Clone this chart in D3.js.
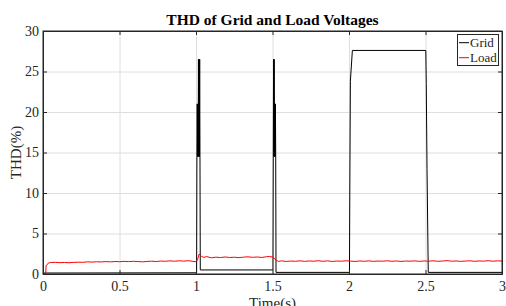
<!DOCTYPE html>
<html>
<head>
<meta charset="utf-8">
<script src="https://cdn.jsdelivr.net/npm/d3@7"></script>
<style>
  body { margin: 0; background: #fff; }
  svg text { font-family: "Liberation Serif", "Times New Roman", serif; fill: #262626; }
</style>
</head>
<body>
<svg id="chart" width="506" height="306"></svg>
<script>
//-- data --//
var title = "THD of Grid and Load Voltages";
var xLabel = "Time(s)";
var yLabel = "THD(%)";
var xTicks = [0, 0.5, 1, 1.5, 2, 2.5, 3];
var yTicks = [0, 5, 10, 15, 20, 25, 30];
var seriesNames = ["Grid", "Load"];
var seriesColors = ["#000000", "#ff0000"];

// Grid THD [time, %]
var gridTHD = [
  [0, 0], [0.004, 0.12], [1.004, 0.15], [1.006, 14.5], [1.008, 21], [1.010, 14.5],
  [1.012, 21], [1.014, 14.5], [1.016, 26.5], [1.018, 14.5], [1.020, 26.5],
  [1.022, 14.5], [1.024, 26.5], [1.026, 14.5], [1.028, 0.5],
  [1.503, 0.5], [1.505, 14.5], [1.507, 26.5], [1.509, 14.5], [1.511, 26.5],
  [1.513, 14.5], [1.515, 21], [1.517, 14.5], [1.519, 21], [1.521, 14.5], [1.523, 0.2],
  [2.003, 0.2], [2.005, 9], [2.009, 23.8], [2.022, 27.6],
  [2.502, 27.6], [2.505, 23.5], [2.510, 13], [2.518, 0.2], [3, 0.2]
];

// Load THD [time, %]
var loadTHD = [
  [0, 0], [0.018, 0], [0.02, 1.0], [0.035, 1.35], [0.05, 1.42], [0.08, 1.44],
  [0.11, 1.40], [0.14, 1.42], [0.17, 1.39], [0.2, 1.43], [0.23, 1.46], [0.26, 1.44],
  [0.29, 1.50], [0.32, 1.47], [0.35, 1.51], [0.38, 1.49], [0.41, 1.53], [0.44, 1.50],
  [0.47, 1.54], [0.5, 1.52], [0.53, 1.56], [0.56, 1.53], [0.59, 1.57], [0.62, 1.54],
  [0.65, 1.50], [0.68, 1.55], [0.71, 1.58], [0.74, 1.54], [0.77, 1.60], [0.8, 1.57],
  [0.83, 1.62], [0.86, 1.58], [0.89, 1.63], [0.92, 1.59], [0.95, 1.64], [0.98, 1.56],
  [1.0, 1.52], [1.01, 1.75], [1.02, 2.45], [1.035, 2.2], [1.05, 2.05], [1.07, 2.15],
  [1.1, 2.0], [1.13, 2.08], [1.16, 2.03], [1.19, 2.1], [1.22, 2.04], [1.25, 2.07],
  [1.28, 2.02], [1.31, 2.08], [1.34, 2.12], [1.37, 2.06], [1.4, 2.1], [1.43, 2.04],
  [1.46, 2.13], [1.48, 2.16], [1.5, 2.1], [1.51, 1.95], [1.525, 1.7], [1.54, 1.55],
  [1.56, 1.62], [1.59, 1.55], [1.62, 1.60], [1.65, 1.57], [1.68, 1.63], [1.71, 1.56],
  [1.74, 1.61], [1.77, 1.58], [1.8, 1.64], [1.83, 1.57], [1.86, 1.62], [1.89, 1.55],
  [1.92, 1.60], [1.95, 1.58], [1.98, 1.63], [2.01, 1.59], [2.04, 1.55], [2.07, 1.61],
  [2.1, 1.57], [2.13, 1.62], [2.16, 1.56], [2.19, 1.60], [2.22, 1.58], [2.25, 1.63],
  [2.28, 1.57], [2.31, 1.61], [2.34, 1.55], [2.37, 1.60], [2.4, 1.58], [2.43, 1.62],
  [2.46, 1.56], [2.49, 1.61], [2.52, 1.58], [2.55, 1.63], [2.58, 1.57], [2.61, 1.60],
  [2.64, 1.65], [2.67, 1.58], [2.7, 1.61], [2.73, 1.56], [2.76, 1.60], [2.79, 1.63],
  [2.82, 1.57], [2.85, 1.61], [2.88, 1.59], [2.91, 1.64], [2.94, 1.58], [2.97, 1.62],
  [3.0, 1.60]
];
//-- data --//

var svg = d3.select("#chart"),
    margin = {top: 31, left: 43, bottom: 32, right: 4},
    width = +svg.attr("width") - margin.left - margin.right,
    height = +svg.attr("height") - margin.top - margin.bottom;

var x = d3.scaleLinear().domain([0, 3]).range([0, width]);
var y = d3.scaleLinear().domain([0, 30]).range([height, 0]);

var g = svg.append("g")
    .attr("transform", `translate(${margin.left},${margin.top})`);

//--grid lines--//
g.append("g")
    .attr("class", "grid")
    .attr("transform", `translate(0,${height})`)
    .call(d3.axisBottom(x).tickValues(xTicks).tickSize(-height).tickFormat(""))
    .call(a => a.select(".domain").remove());

g.append("g")
    .attr("class", "grid")
    .call(d3.axisLeft(y).tickValues(yTicks).tickSize(-width).tickFormat(""))
    .call(a => a.select(".domain").remove());
//--grid lines--//

//--lines--//
var line = d3.line().x(d => x(d[0])).y(d => y(d[1]));

g.append("path")
    .datum(gridTHD)
    .attr("fill", "none")
    .attr("stroke", seriesColors[0])
    .attr("stroke-width", 1)
    .attr("d", line);

g.append("path")
    .datum(loadTHD)
    .attr("fill", "none")
    .attr("stroke", seriesColors[1])
    .attr("stroke-width", 1)
    .attr("d", line);
//--lines--//

//--axes--//
g.append("g")
    .attr("transform", `translate(0,${height})`)
    .call(d3.axisBottom(x).tickValues(xTicks).tickFormat(d3.format("")).tickSizeInner(-4).tickSizeOuter(0).tickPadding(7));

g.append("g")
    .call(d3.axisLeft(y).tickValues(yTicks).tickSizeInner(-4).tickSizeOuter(0).tickPadding(4));

g.append("g")
    .call(d3.axisTop(x).tickValues(xTicks).tickFormat("").tickSizeInner(-4).tickSizeOuter(0));

g.append("g")
    .attr("transform", `translate(${width},0)`)
    .call(d3.axisRight(y).tickValues(yTicks).tickFormat("").tickSizeInner(-4).tickSizeOuter(0));

g.selectAll(".tick text")
    .style("font-family", "Liberation Serif")
    .style("font-size", "14px")
    .attr("fill", "#262626");

g.selectAll(".domain, .tick line").attr("stroke", "#262626");
g.selectAll(".grid .tick line").attr("stroke", "#dedede");

g.append("rect")
    .attr("width", width)
    .attr("height", height)
    .attr("fill", "none")
    .attr("stroke", "#262626");
//--axes--//

//--labels--//
svg.append("text")
    .attr("x", margin.left + width / 2)
    .attr("y", 24.5)
    .attr("text-anchor", "middle")
    .style("font-size", "15.5px")
    .style("font-weight", "bold")
    .style("fill", "#000")
    .text(title);

svg.append("text")
    .attr("x", margin.left + width / 2)
    .attr("y", 307.5)
    .attr("text-anchor", "middle")
    .style("font-size", "15px")
    .text(xLabel);

svg.append("text")
    .attr("transform", `translate(20.5,${margin.top + height / 2}) rotate(-90)`)
    .attr("text-anchor", "middle")
    .style("font-size", "15px")
    .text(yLabel);
//--labels--//

//--legend--//
var legend = svg.append("g")
    .attr("transform", "translate(457.5,34.5)");

legend.append("rect")
    .attr("width", 41)
    .attr("height", 31)
    .attr("fill", "#fff")
    .attr("stroke", "#262626");

var lg = legend.selectAll("g.item")
    .data(seriesNames)
    .enter().append("g")
    .attr("class", "item")
    .attr("transform", (d, i) => `translate(0,${8.2 + i * 15})`);

lg.append("line")
    .attr("x1", 1.5).attr("x2", 11.5)
    .attr("y1", 0).attr("y2", 0)
    .attr("stroke", (d, i) => seriesColors[i]);

lg.append("text")
    .attr("x", 12.5)
    .attr("y", 4)
    .style("font-size", "13px")
    .text(d => d);
//--legend--//
</script>
</body>
</html>
